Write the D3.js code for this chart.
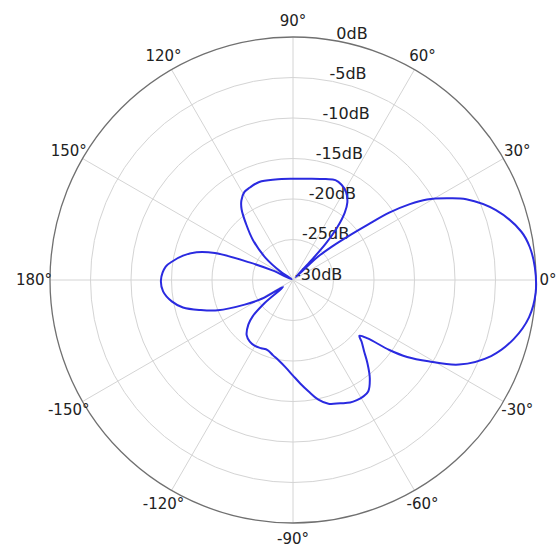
<!DOCTYPE html>
<html><head><meta charset="utf-8">
<script src="https://cdn.jsdelivr.net/npm/d3@7"></script>
<style>html,body{margin:0;padding:0;background:#fff}svg{display:block}</style>
</head><body><svg id="chart" width="558" height="554"></svg>
<script>
// pattern: angle in degrees (counter-clockwise from 0°) and gain in dB
const angles = [-180,-175,-170,-166,-162,-158,-153,-149,-145,-141,-138,-135,-130,-125,-120,-115,-110,-105,-100,-95,-90,-86,-82,-78,-74,-69,-65,-62,-59,-56,-52,-48,-45,-42,-40,-38,-36,-34,-31,-27,-21,-15,-9,-3,3,8,12,19,25,28,31,33,35,36.5,38,40.5,43,45.5,47,48,50,52.5,55,59,63,67,72,80,90,100,109,115,119,123,126,130,135,141,146,151,155,158,161,164,167.5,171,174];
const gains  = [-13.7,-13.9,-14.8,-16,-18,-20,-23.3,-25.5,-28.5,-25.5,-23.3,-22.2,-21.1,-20.7,-20.6,-20.7,-20.8,-20.4,-19.9,-19.2,-18.2,-17.2,-16.1,-14.9,-14.1,-13.7,-13.3,-13.2,-13.2,-13.4,-14.6,-16.3,-17.6,-18.6,-19.3,-18.3,-15.3,-13,-10.5,-7.0,-3.8,-1.8,-0.5,0,-0.1,-0.5,-1.2,-3.5,-6.4,-8.5,-10.7,-12.8,-15.5,-18.5,-20.8,-23.5,-25.8,-29.5,-27,-24,-21.5,-19.5,-18.3,-17.3,-16.8,-16.6,-16.9,-17.3,-17.5,-17.4,-17.2,-17.4,-17.6,-18.3,-19.2,-21,-23,-25.6,-28.2,-29.8,-27.2,-24.2,-19.8,-17.6,-16.1,-15,-14.2];
const ringTicks = [-30,-25,-20,-15,-10,-5,0];
const ringLabels = ["-30dB","-25dB","-20dB","-15dB","-10dB","-5dB","0dB"];
const angleTicks = [0,30,60,90,120,150,180,210,240,270,300,330];
const angleLabels = ["0°","30°","60°","90°","120°","150°","180°","-150°","-120°","-90°","-60°","-30°"];

const W = 558, H = 554, cx = 293, cy = 280, R = 243;
const svg = d3.select("#chart");
svg.append("rect").attr("width", W).attr("height", H).attr("fill", "#fff");
const g = svg.append("g").attr("transform", `translate(${cx},${cy})`);

const r = d3.scaleLinear().domain([-30, 0]).range([0, R]);
const toRad = d => d * Math.PI / 180;

// rings
g.selectAll("circle.ring").data(ringTicks.filter(t => t > -30 && t < 0)).join("circle")
  .attr("class", "ring").attr("r", d => r(d)).attr("fill", "none")
  .attr("stroke", "#d4d4d4").attr("stroke-width", 1);
// spokes
g.selectAll("line.spoke").data(angleTicks).join("line")
  .attr("x1", 0).attr("y1", 0)
  .attr("x2", d => R * Math.cos(toRad(d))).attr("y2", d => -R * Math.sin(toRad(d)))
  .attr("stroke", "#d4d4d4").attr("stroke-width", 1);
// outer frame
g.append("circle").attr("r", R).attr("fill", "none").attr("stroke", "#707070").attr("stroke-width", 1.3);

// angle labels
const labR = d => d === 0 ? 255 : 259;
g.selectAll("text.alab").data(angleTicks).join("text")
  .attr("x", d => labR(d) * Math.cos(toRad(d))).attr("y", d => -labR(d) * Math.sin(toRad(d)))
  .attr("text-anchor", "middle").attr("dominant-baseline", "central")
  .attr("font-family", "DejaVu Sans").attr("font-size", 15).attr("fill", "#222")
  .text((d, i) => angleLabels[i]);

// radial labels
g.selectAll("text.rlab").data(ringTicks).join("text")
  .attr("x", d => 2 + r(d) * 0.17).attr("y", d => -6 - r(d) * 0.99)
  .attr("text-anchor", "start").attr("dominant-baseline", "central")
  .attr("font-family", "DejaVu Sans").attr("font-size", 16).attr("fill", "#222")
  .text((d, i) => ringLabels[i]);

// pattern
const pts = angles.map((a, i) => [toRad(90 - a), r(gains[i])]);
const line = d3.lineRadial().angle(d => d[0]).radius(d => d[1]).curve(d3.curveCatmullRomClosed.alpha(0.5));
g.append("path").attr("d", line(pts)).attr("fill", "none")
  .attr("stroke", "#2a2ae0").attr("stroke-width", 2);
</script></body></html>
